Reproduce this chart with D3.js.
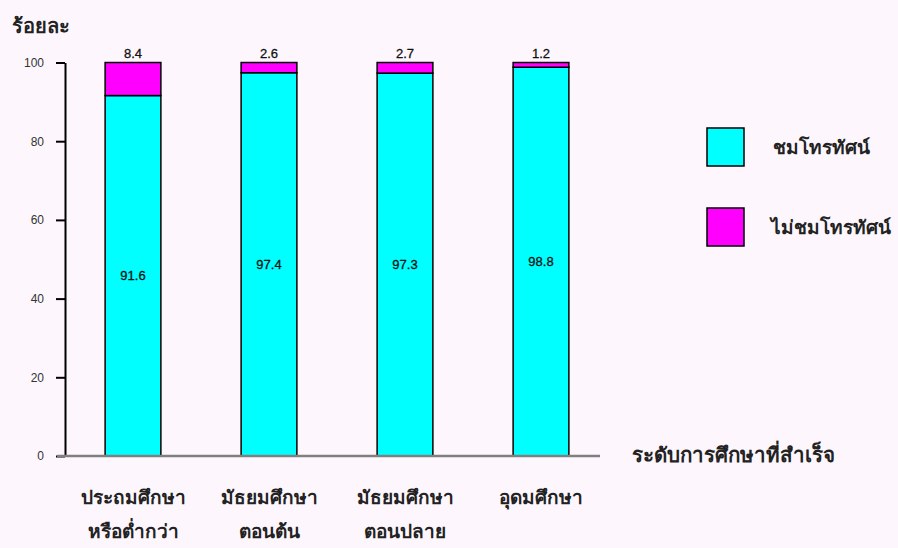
<!DOCTYPE html>
<html>
<head>
<meta charset="utf-8">
<script src="https://cdn.jsdelivr.net/npm/d3@7"></script>
<style>
  body { margin: 0; background: #fdf7fd; }
  svg { display: block; font-family: "Liberation Sans", Arial, sans-serif; }
</style>
</head>
<body>
<div id="chart"></div>
<script>
// education levels (two-line labels)
const levels = ["ประถมศึกษา\nหรือต่ำกว่า", "มัธยมศึกษา\nตอนต้น", "มัธยมศึกษา\nตอนปลาย", "อุดมศึกษา"];
const watchTV = [91.6, 97.4, 97.3, 98.8];
const notWatchTV = [8.4, 2.6, 2.7, 1.2];
const seriesNames = ["ชมโทรทัศน์", "ไม่ชมโทรทัศน์"];
const seriesColors = ["#00ffff", "#ff00ff"];
const yTicks = [0, 20, 40, 60, 80, 100];

const width = 898, height = 548;
const thaiSize = "19px";

const svg = d3.select("#chart").append("svg")
    .attr("width", width)
    .attr("height", height);

const x = d3.scaleBand()
    .domain(levels)
    .range([65, 609])
    .paddingInner(0.59)
    .paddingOuter(0.295);

const y = d3.scaleLinear()
    .domain([0, 100])
    .range([456, 62.5]);

const rows = levels.map((lv, i) => ({ level: lv, watch: watchTV[i], notWatch: notWatchTV[i] }));

// stacked bars
const stack = d3.stack().keys(["watch", "notWatch"])(rows);

svg.selectAll(".layer")
    .data(stack)
    .enter()
    .append("g")
    .attr("class", "layer")
    .attr("fill", (d, i) => seriesColors[i])
    .selectAll("rect")
    .data(d => d)
    .enter()
    .append("rect")
    .attr("x", d => x(d.data.level))
    .attr("y", d => y(d[1]))
    .attr("width", x.bandwidth())
    .attr("height", d => y(d[0]) - y(d[1]))
    .attr("stroke", "#000")
    .attr("stroke-width", 1.5);

// value labels inside the cyan part
svg.selectAll(".in-label")
    .data(rows)
    .enter()
    .append("text")
    .attr("class", "in-label")
    .attr("x", d => x(d.level) + x.bandwidth() / 2)
    .attr("y", d => y(d.watch / 2))
    .attr("dy", "0.35em")
    .attr("text-anchor", "middle")
    .attr("font-size", "13px")
    .attr("fill", "#111")
    .attr("stroke", "#111")
    .attr("stroke-width", 0.3)
    .text(d => d.watch.toFixed(1));

// value labels above the bars
svg.selectAll(".top-label")
    .data(rows)
    .enter()
    .append("text")
    .attr("class", "top-label")
    .attr("x", d => x(d.level) + x.bandwidth() / 2)
    .attr("y", y(100) - 5)
    .attr("text-anchor", "middle")
    .attr("font-size", "13px")
    .attr("fill", "#111")
    .attr("stroke", "#111")
    .attr("stroke-width", 0.3)
    .text(d => d.notWatch.toFixed(1));

// y axis
const yAxis = svg.append("g")
    .attr("transform", "translate(65,0)")
    .call(d3.axisLeft(y).tickValues(yTicks).tickSize(9).tickSizeOuter(0).tickPadding(12));
yAxis.select(".domain").attr("stroke", "#000").attr("stroke-width", 2);
yAxis.selectAll(".tick line").attr("stroke", "#000").attr("stroke-width", 2);
yAxis.selectAll(".tick text")
    .attr("font-size", "12px")
    .attr("font-family", "Liberation Sans, Arial, sans-serif")
    .attr("fill", "#333");

// baseline
svg.append("line")
    .attr("x1", 57).attr("x2", 600)
    .attr("y1", y(0)).attr("y2", y(0))
    .attr("stroke", "#808080")
    .attr("stroke-width", 2.5);

// category labels
svg.selectAll(".cat-label")
    .data(levels)
    .enter()
    .append("text")
    .attr("class", "cat-label")
    .attr("x", d => x(d) + x.bandwidth() / 2)
    .attr("y", 504)
    .attr("text-anchor", "middle")
    .attr("font-size", thaiSize)
    .attr("font-weight", "bold")
    .attr("fill", "#222")
    .each(function(d) {
        const lines = d.split("\n");
        d3.select(this).selectAll("tspan")
            .data(lines)
            .enter()
            .append("tspan")
            .attr("x", x(d) + x.bandwidth() / 2)
            .attr("dy", (l, i) => i === 0 ? 0 : 34)
            .text(l => l);
    });

// axis titles
svg.append("text")
    .attr("x", 12).attr("y", 33)
    .attr("font-size", "20px")
    .attr("font-weight", "bold")
    .attr("fill", "#222")
    .text("ร้อยละ");

svg.append("text")
    .attr("x", 632).attr("y", 462)
    .attr("font-size", "20.5px")
    .attr("font-weight", "bold")
    .attr("fill", "#222")
    .text("ระดับการศึกษาที่สำเร็จ");

// legend
const legend = svg.selectAll(".legend")
    .data(seriesNames)
    .enter()
    .append("g")
    .attr("class", "legend")
    .attr("transform", (d, i) => `translate(707,${128 + i * 80})`);

legend.append("rect")
    .attr("width", 37)
    .attr("height", 38)
    .attr("fill", (d, i) => seriesColors[i])
    .attr("stroke", "#000")
    .attr("stroke-width", 1.5);

legend.append("text")
    .attr("x", (d, i) => i === 0 ? 66 : 64)
    .attr("y", 19)
    .attr("dy", "0.35em")
    .attr("font-size", thaiSize)
    .attr("font-weight", "bold")
    .attr("fill", "#222")
    .text(d => d);
</script>
</body>
</html>
